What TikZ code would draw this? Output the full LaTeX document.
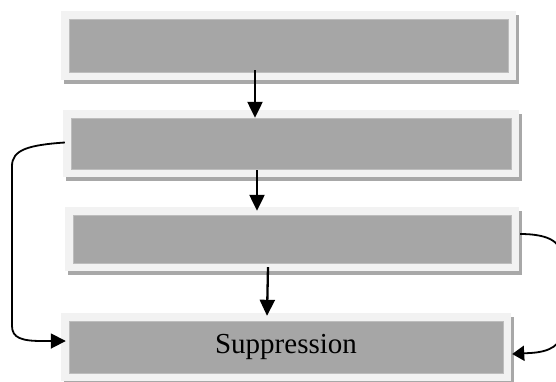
\documentclass[tikz,border=0pt]{standalone}
\usepackage{fontspec}
\setmainfont{Liberation Serif}
\usetikzlibrary{arrows.meta,shadows}
\definecolor{boxrim}{HTML}{F2F2F2}
\definecolor{boxcore}{HTML}{A6A6A6}
\definecolor{coreedge}{HTML}{BDBDBD}
\definecolor{boxshade}{HTML}{A8A8A8}
\tikzset{
  stagebox/.style={
    fill=boxrim, inner sep=0pt, minimum width=#1,
    drop shadow={shadow xshift=3pt, shadow yshift=-4pt, fill=boxshade, opacity=1},
    path picture={
      \fill[boxcore, draw=coreedge, line width=0.8pt]
        ([shift={(8pt,-8pt)}]path picture bounding box.north west) rectangle
        ([shift={(-8pt,8pt)}]path picture bounding box.south east);
    }
  },
  flow/.style={line width=2.3pt, -{Triangle[width=15pt,length=16pt]}},
  loop/.style={line width=1.8pt, -{Triangle[width=15pt,length=15pt]}}
}
\begin{document}
\begin{tikzpicture}[x=1pt, y=-1pt]
  \useasboundingbox (0,0) rectangle (556,381);
  \clip (0,0) rectangle (556,381);

  % four stages, top to bottom
  \node[stagebox=455pt, minimum height=69pt] (b1) at (288.5,45.5) {};
  \node[stagebox=456pt, minimum height=67pt] (b2) at (291,143.5) {};
  \node[stagebox=454pt, minimum height=64pt] (b3) at (292,239) {};
  \node[stagebox=450pt, minimum height=68pt, font=\fontsize{29}{34}\selectfont] (b4) at (286,347) {Suppression};

  % straight flow between stages
  \draw[flow] ([xshift=-33.5pt,yshift=10pt]b1.south) -- ([xshift=-36pt,yshift=-8pt]b2.north);
  \draw[flow] ([xshift=-34pt,yshift=7pt]b2.south) -- ([xshift=-35pt,yshift=-4pt]b3.north);
  \draw[flow] ([xshift=-24pt,yshift=4pt]b3.south) -- ([xshift=-19pt,yshift=-3pt]b4.north);

  % bypass on the left: stage 2 to the last stage
  \coordinate (lt) at (12,166);
  \coordinate (lb) at (12,326);
  \draw[loop] ([xshift=2pt,yshift=1pt]b2.west) .. controls (28,145) and (12,150) .. (lt)
    -- (lb) .. controls (12,338) and (22,341) .. (42,341) -- ([xshift=5pt,yshift=6pt]b4.west);

  % bypass on the right: stage 3 to the last stage
  \coordinate (rt) at (562,258);
  \coordinate (rb) at (562,330);
  \draw[loop, -{Triangle[width=15pt,length=12pt]}] ([xshift=1pt,yshift=5pt]b3.east)
    .. controls (545,234) and (562,240) .. (rt)
    -- (rb) .. controls (562,345) and (550,352) .. (530,353) -- ([xshift=1pt,yshift=-7pt]b4.east);
\end{tikzpicture}
\end{document}
